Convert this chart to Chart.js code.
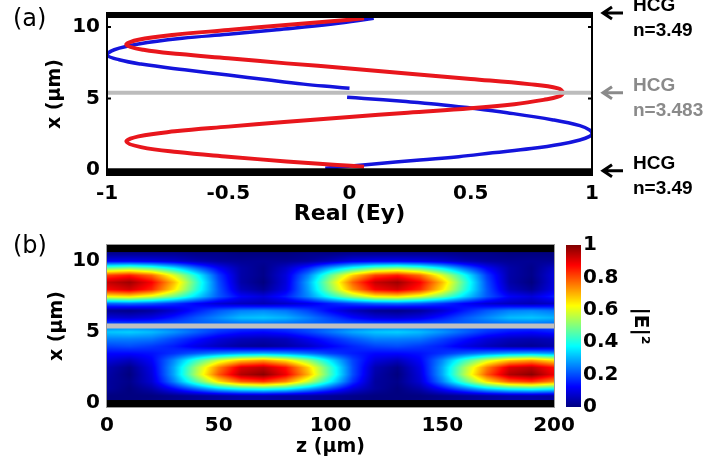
<!DOCTYPE html>
<html>
<head>
<meta charset="utf-8">
<script src="https://cdn.jsdelivr.net/npm/chart.js@4.4.1/dist/chart.umd.min.js"></script>
<style>
  html, body { margin: 0; padding: 0; background: #fff; }
  #wrap { position: relative; width: 707px; height: 469px; overflow: hidden; }
  #chartA { position: absolute; left: 0; top: 0; }
  #chartB { position: absolute; left: 0; top: 232px; }
  .panel { position: absolute; left: 13px; font: 24px 'DejaVu Sans', sans-serif; line-height: 24px; color: #000; }
</style>
</head>
<body>
<div id="wrap">
  <canvas id="chartA" width="707" height="232"></canvas>
  <canvas id="chartB" width="707" height="237"></canvas>
  <div class="panel" style="top:6px">(a)</div>
  <div class="panel" style="top:233px">(b)</div>
</div>
<script>
// ---------- panel (a): mode profiles, position x (um) vs Real(Ey) ----------
const redPos = [0.23, 0.35, 0.6, 0.93, 1.25, 1.6, 1.98, 2.35, 2.7, 3.03, 3.35, 3.7, 4.0, 4.31, 4.6, 4.9, 5.12, 5.4,
                5.7, 6.0, 6.36, 6.7, 7.1, 7.45, 7.81, 8.1, 8.4, 8.75, 9.1, 9.45, 9.78, 10.15, 10.5, 10.6];
const redEy  = [0.06, -0.05, -0.26, -0.5, -0.71, -0.86, -0.92, -0.87, -0.72, -0.5, -0.27, 0.0, 0.24, 0.5, 0.68, 0.8, 0.86, 0.88,
                0.86, 0.74, 0.5, 0.26, 0.0, -0.26, -0.5, -0.7, -0.85, -0.92, -0.87, -0.72, -0.5, -0.25, 0.0, 0.06];
// the blue profile breaks at the centre layer (null = gap)
const bluePos = [0.12, 0.4, 0.7, 0.93, 1.2, 1.5, 1.8, 2.1, 2.35, 2.55, 2.8, 3.1, 3.5, 4.0, 4.33, 4.6, 4.8, 5.0, 5.09,
                 5.4,
                 5.71, 5.8, 6.0, 6.3, 6.64, 7.0, 7.4, 7.7, 8.04, 8.4, 8.8, 9.2, 9.48, 9.8, 10.2, 10.6];
const blueEy  = [-0.1, 0.09, 0.29, 0.45, 0.59, 0.75, 0.87, 0.95, 0.99, 1.0, 0.99, 0.95, 0.84, 0.65, 0.5, 0.36, 0.22, 0.06, -0.01,
                 null,
                 0.0, -0.06, -0.19, -0.34, -0.5, -0.68, -0.86, -0.95, -1.0, -0.97, -0.87, -0.69, -0.5, -0.3, -0.07, 0.1];

const hcgLayersA = [[-0.35, 0.12], [10.62, 10.97]];
const centreLayerA = 5.4;
const hcgLabelPos = [10.97, 5.4, -0.05];
const hcgNames = ['HCG', 'HCG', 'HCG'];
const hcgIndex = ['n=3.49', 'n=3.483', 'n=3.49'];
const hcgColors = ['#000', '#8a8a8a', '#000'];

const eyTicks = [-1, -0.5, 0, 0.5, 1];
const posTicks = [0, 5, 10];

// ---------- panel (b): |E|^2 map, rows = x (um), columns = z (um) ----------
const zSteps = [0, 10, 20, 30, 40, 50, 60, 70, 80, 90, 100, 110, 120, 130, 140, 150, 160, 170, 180, 190, 200];
const xSteps = [0, 0.5, 1, 1.5, 2, 2.5, 3, 3.5, 4, 4.5, 5, 5.5, 6, 6.5, 7, 7.5, 8, 8.5, 9, 9.5, 10, 10.5];
const intensity = [
  [0.00,0.00,0.01,0.02,0.03,0.04,0.05,0.05,0.04,0.03,0.02,0.01,0.00,0.00,0.01,0.02,0.03,0.04,0.05,0.05,0.04],
  [0.00,0.00,0.00,0.01,0.02,0.03,0.04,0.04,0.03,0.03,0.02,0.01,0.00,0.00,0.00,0.01,0.02,0.03,0.04,0.04,0.03],
  [0.03,0.00,0.04,0.13,0.23,0.33,0.39,0.41,0.38,0.29,0.19,0.09,0.03,0.00,0.04,0.13,0.23,0.33,0.39,0.41,0.38],
  [0.03,0.01,0.08,0.25,0.45,0.65,0.78,0.82,0.74,0.57,0.37,0.17,0.03,0.01,0.08,0.25,0.45,0.65,0.78,0.82,0.74],
  [0.04,0.00,0.09,0.29,0.55,0.79,0.95,0.99,0.89,0.70,0.44,0.20,0.04,0.00,0.09,0.29,0.55,0.79,0.95,0.99,0.89],
  [0.05,0.01,0.10,0.29,0.53,0.75,0.91,0.94,0.86,0.67,0.43,0.20,0.05,0.01,0.10,0.29,0.53,0.75,0.91,0.94,0.86],
  [0.09,0.06,0.12,0.26,0.43,0.58,0.68,0.72,0.65,0.52,0.35,0.19,0.09,0.06,0.12,0.26,0.43,0.58,0.68,0.72,0.65],
  [0.13,0.13,0.14,0.17,0.21,0.25,0.28,0.29,0.27,0.23,0.18,0.15,0.13,0.13,0.14,0.17,0.21,0.25,0.28,0.29,0.27],
  [0.19,0.20,0.18,0.15,0.10,0.06,0.03,0.02,0.04,0.07,0.12,0.16,0.19,0.20,0.18,0.15,0.10,0.06,0.03,0.02,0.04],
  [0.25,0.25,0.24,0.19,0.14,0.09,0.06,0.05,0.06,0.11,0.16,0.21,0.25,0.25,0.24,0.19,0.14,0.09,0.06,0.05,0.06],
  [0.32,0.33,0.31,0.27,0.22,0.17,0.14,0.13,0.15,0.19,0.24,0.29,0.32,0.33,0.31,0.27,0.22,0.17,0.14,0.13,0.15],
  [0.22,0.22,0.22,0.22,0.22,0.22,0.22,0.22,0.22,0.22,0.22,0.22,0.22,0.22,0.22,0.22,0.22,0.22,0.22,0.22,0.22],
  [0.09,0.08,0.10,0.15,0.21,0.26,0.31,0.32,0.30,0.25,0.19,0.13,0.09,0.08,0.10,0.15,0.21,0.26,0.31,0.32,0.30],
  [0.02,0.01,0.03,0.08,0.15,0.21,0.25,0.26,0.24,0.19,0.12,0.06,0.02,0.01,0.03,0.08,0.15,0.21,0.25,0.26,0.24],
  [0.22,0.23,0.21,0.17,0.12,0.08,0.06,0.05,0.07,0.10,0.15,0.19,0.22,0.23,0.21,0.17,0.12,0.08,0.06,0.05,0.07],
  [0.63,0.65,0.59,0.48,0.34,0.21,0.12,0.09,0.15,0.26,0.40,0.53,0.63,0.65,0.59,0.48,0.34,0.21,0.12,0.09,0.15],
  [0.88,0.92,0.84,0.65,0.42,0.21,0.06,0.02,0.10,0.28,0.51,0.73,0.88,0.92,0.84,0.65,0.42,0.21,0.06,0.02,0.10],
  [0.93,0.97,0.88,0.69,0.44,0.20,0.04,0.00,0.09,0.29,0.54,0.78,0.93,0.97,0.88,0.69,0.44,0.20,0.04,0.00,0.09],
  [0.81,0.85,0.77,0.59,0.39,0.18,0.04,0.01,0.09,0.25,0.47,0.67,0.81,0.85,0.77,0.59,0.39,0.18,0.04,0.01,0.09],
  [0.48,0.51,0.46,0.36,0.23,0.12,0.04,0.01,0.07,0.16,0.29,0.40,0.48,0.51,0.46,0.36,0.23,0.12,0.04,0.01,0.07],
  [0.11,0.11,0.10,0.08,0.05,0.03,0.02,0.02,0.02,0.03,0.06,0.10,0.11,0.11,0.10,0.08,0.05,0.03,0.02,0.02,0.02],
  [0.02,0.02,0.02,0.02,0.01,0.01,0.00,0.00,0.00,0.01,0.01,0.02,0.02,0.02,0.02,0.02,0.01,0.01,0.00,0.00,0.00]
];
const hcgLayersB = [[-0.28, 0.21], [10.63, 11.13]];
const centreLayerB = 5.42;
const zTicks = [0, 50, 100, 150, 200];
const cbTicks = [0, 0.2, 0.4, 0.6, 0.8, 1];

Chart.defaults.font.family = "'DejaVu Sans', sans-serif";
Chart.defaults.font.weight = 'bold';
Chart.defaults.color = '#000';

function fixedTicks(values) {
    return scale => { scale.ticks = values.map(v => ({ value: v })); };
}

// fixed axis sizes, no extra room for the end labels
function fixWidth(w) {
    return s => { s.width = w; s.paddingTop = 0; s.paddingBottom = 0; };
}
function fixHeight(h) {
    return s => { s.height = h; s.paddingLeft = 0; s.paddingRight = 0; };
}

// matlab jet colormap
function jet(v) {
    const c = t => Math.round(255 * Math.max(0, Math.min(1, t)));
    return [c(1.5 - Math.abs(4 * v - 3)), c(1.5 - Math.abs(4 * v - 2)), c(1.5 - Math.abs(4 * v - 1))];
}

function locate(arr, v) {
    if (v <= arr[0]) return [0, 0, 0];
    const n = arr.length - 1;
    if (v >= arr[n]) return [n, n, 0];
    let i = 0;
    while (arr[i + 1] < v) i++;
    return [i, i + 1, (v - arr[i]) / (arr[i + 1] - arr[i])];
}

const axisFont = { size: 20 };

// ----- plugin for panel (a): HCG layers, box and labels -----
const layersA = {
    id: 'layersA',
    afterDatasetsDraw(chart) {
        const { ctx, chartArea: a, scales: { y } } = chart;
        ctx.save();
        ctx.fillStyle = '#000';
        hcgLayersA.forEach(([lo, hi]) => {
            const top = y.getPixelForValue(hi), bot = y.getPixelForValue(lo);
            ctx.fillRect(a.left, top, a.right - a.left, bot - top);
        });
        ctx.strokeStyle = '#000';
        ctx.lineWidth = 2;
        ctx.strokeRect(a.left, a.top, a.right - a.left, a.bottom - a.top);
        ctx.beginPath();
        posTicks.forEach(v => {
            const py = y.getPixelForValue(v);
            ctx.moveTo(a.left, py); ctx.lineTo(a.left + 4, py);
            ctx.moveTo(a.right - 4, py); ctx.lineTo(a.right, py);
        });
        ctx.stroke();
        ctx.restore();
    },
    afterDraw(chart) {
        const { ctx, chartArea: a, scales: { y } } = chart;
        ctx.save();
        ctx.font = "bold 19px 'Liberation Sans', Arial, sans-serif";
        ctx.textBaseline = 'middle';
        ctx.textAlign = 'left';
        ctx.lineWidth = 3;
        hcgLabelPos.forEach((pos, i) => {
            const py = y.getPixelForValue(pos);
            const x0 = a.right + 11, x1 = a.right + 31;
            ctx.strokeStyle = ctx.fillStyle = hcgColors[i];
            ctx.beginPath();
            ctx.moveTo(x1, py); ctx.lineTo(x0 + 1, py);
            ctx.moveTo(x0 + 9, py - 6); ctx.lineTo(x0, py); ctx.lineTo(x0 + 9, py + 6);
            ctx.stroke();
            ctx.fillText(hcgNames[i], a.right + 41, py - 7);
            ctx.fillText(hcgIndex[i], a.right + 41, py + 18);
        });
        ctx.restore();
    }
};

new Chart(document.getElementById('chartA'), {
    type: 'scatter',
    data: {
        datasets: [
            { data: [{ x: -1, y: centreLayerA }, { x: 1, y: centreLayerA }], showLine: true,
              borderColor: '#bcbcbc', borderWidth: 4, pointRadius: 0 },
            { data: redEy.map((e, i) => ({ x: e, y: redPos[i] })), showLine: true,
              borderColor: '#e8161c', borderWidth: 4, pointRadius: 0, tension: 0.4 },
            { data: blueEy.map((e, i) => ({ x: e, y: e === null ? null : bluePos[i] })), showLine: true,
              borderColor: '#1414dc', borderWidth: 3.5, pointRadius: 0, tension: 0.4, spanGaps: false }
        ]
    },
    options: {
        responsive: false,
        animation: false,
        devicePixelRatio: 1,
        layout: { padding: { left: 0, top: 13, right: 115, bottom: 0 } },
        plugins: { legend: { display: false }, tooltip: { enabled: false } },
        scales: {
            x: {
                type: 'linear', min: -1, max: 1,
                afterBuildTicks: fixedTicks(eyTicks),
                afterFit: fixHeight(57),
                grid: { display: false, drawTicks: false },
                border: { display: false },
                ticks: { font: axisFont, padding: 7, autoSkip: false, maxRotation: 0, callback: v => String(v) },
                title: { display: true, text: 'Real (Ey)', font: { size: 22 }, padding: { top: 0, bottom: 5 } }
            },
            y: {
                type: 'linear', min: -0.35, max: 10.97,
                afterBuildTicks: fixedTicks(posTicks),
                afterFit: fixWidth(107),
                grid: { display: false, drawTicks: false },
                border: { display: false },
                ticks: { font: axisFont, padding: 7, autoSkip: false, callback: v => String(v) },
                title: { display: true, text: 'x (µm)', font: { size: 19 }, padding: { top: 44, bottom: 0 } }
            }
        }
    },
    plugins: [layersA]
});

// ----- plugin for panel (b): field map, layers, colour bar -----
const heatmap = {
    id: 'heatmap',
    beforeDatasetsDraw(chart) {
        const { ctx, chartArea: a, scales: { x, y, cb } } = chart;
        const w = Math.round(a.right - a.left), h = Math.round(a.bottom - a.top);
        const off = document.createElement('canvas');
        off.width = w; off.height = h;
        const octx = off.getContext('2d');
        const img = octx.createImageData(w, h);
        for (let py = 0; py < h; py++) {
            const [j0, j1, fj] = locate(xSteps, y.getValueForPixel(a.top + py + 0.5));
            for (let px = 0; px < w; px++) {
                const [i0, i1, fi] = locate(zSteps, x.getValueForPixel(a.left + px + 0.5));
                const v = (1 - fj) * ((1 - fi) * intensity[j0][i0] + fi * intensity[j0][i1]) +
                          fj * ((1 - fi) * intensity[j1][i0] + fi * intensity[j1][i1]);
                const [r, g, b] = jet(v);
                const k = (py * w + px) * 4;
                img.data[k] = r; img.data[k + 1] = g; img.data[k + 2] = b; img.data[k + 3] = 255;
            }
        }
        octx.putImageData(img, 0, 0);
        ctx.save();
        ctx.drawImage(off, a.left, a.top);
        ctx.fillStyle = '#000';
        hcgLayersB.forEach(([lo, hi]) => {
            const top = Math.max(a.top, y.getPixelForValue(hi)), bot = Math.min(a.bottom, y.getPixelForValue(lo));
            ctx.fillRect(a.left, top, a.right - a.left, bot - top);
        });
        // colour bar
        const top = cb.getPixelForValue(1), bot = cb.getPixelForValue(0);
        for (let py = Math.floor(top); py < bot; py++) {
            const [r, g, b] = jet(cb.getValueForPixel(py + 0.5));
            ctx.fillStyle = `rgb(${r},${g},${b})`;
            ctx.fillRect(cb.left + 12, py, 15, 1);
        }
        ctx.restore();
    },
    afterDatasetsDraw(chart) {
        const { ctx, chartArea: a } = chart;
        ctx.save();
        ctx.strokeStyle = '#9a9a9a';
        ctx.lineWidth = 1;
        ctx.strokeRect(a.left - 0.5, a.top - 0.5, a.right - a.left + 1, a.bottom - a.top + 1);
        ctx.restore();
    }
};

new Chart(document.getElementById('chartB'), {
    type: 'scatter',
    data: {
        datasets: [
            { data: [{ x: 0, y: centreLayerB }, { x: 200, y: centreLayerB }], showLine: true,
              borderColor: '#bfbfbf', borderWidth: 5, pointRadius: 0 }
        ]
    },
    options: {
        responsive: false,
        animation: false,
        devicePixelRatio: 1,
        layout: { padding: { left: 0, top: 13, right: 0, bottom: 0 } },
        plugins: { legend: { display: false }, tooltip: { enabled: false } },
        scales: {
            x: {
                type: 'linear', min: 0, max: 200,
                afterBuildTicks: fixedTicks(zTicks),
                afterFit: fixHeight(62),
                grid: { display: false, drawTicks: false },
                border: { display: false },
                ticks: { font: axisFont, padding: 7, autoSkip: false, maxRotation: 0, callback: v => String(v) },
                title: { display: true, text: 'z (µm)', font: { size: 19 }, padding: { top: 0, bottom: 11 } }
            },
            y: {
                type: 'linear', min: -0.28, max: 11.13,
                afterBuildTicks: fixedTicks(posTicks),
                afterFit: fixWidth(107),
                grid: { display: false, drawTicks: false },
                border: { display: false },
                ticks: { font: axisFont, padding: 7, autoSkip: false, callback: v => String(v) },
                title: { display: true, text: 'x (µm)', font: { size: 19 }, padding: { top: 46, bottom: 0 } }
            },
            cb: {
                type: 'linear', position: 'right', min: 0, max: 1,
                afterBuildTicks: fixedTicks(cbTicks),
                afterFit: fixWidth(153),
                grid: { display: false, drawTicks: false },
                border: { display: false },
                ticks: { font: axisFont, padding: 29, autoSkip: false, callback: v => String(v) },
                title: { display: true, text: '|E|²', font: { size: 20 }, padding: { top: 55, bottom: 0 } }
            }
        }
    },
    plugins: [heatmap]
});
</script>
</body>
</html>
